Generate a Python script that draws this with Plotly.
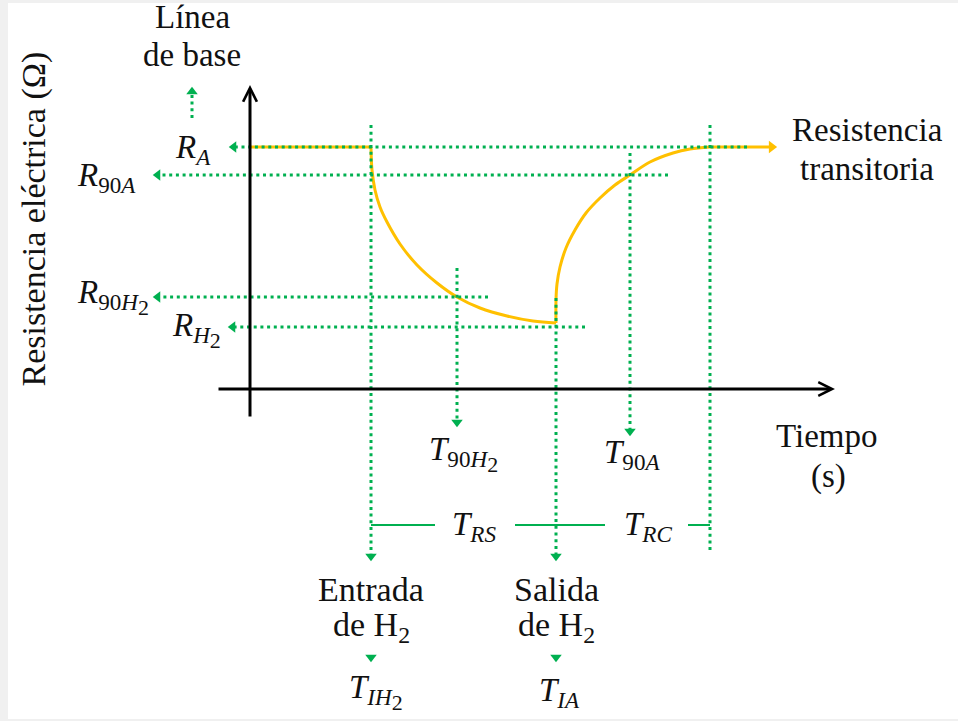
import math
import plotly.graph_objects as go

# ---- characteristic times (schematic time units) ----
t_gas_in = 12.1      # T_IH2 : H2 enters
t_90_h2 = 20.7       # T_90H2
t_gas_out = 30.6     # T_IA  : H2 leaves
t_90_air = 38.0      # T_90A
t_recovered = 46.0   # end of recovery (T_RC)

# ---- characteristic resistance levels (schematic units) ----
r_air = 24.2         # R_A   baseline
r_90_air = 21.4      # R_90A
r_90_h2 = 9.2        # R_90H2
r_h2 = 6.2           # R_H2

# ---- transient resistance curve ----
base_t = [0.0, 12.1]
base_r = [24.2, 24.2]
fall_t = [12.1, 12.2, 12.5, 13.0, 13.7, 15.0, 16.7, 18.7, 20.7, 23.0, 25.7, 28.3, 30.6]
fall_r = [24.2, 21.9, 19.9, 18.2, 16.7, 14.5, 12.4, 10.6, 9.2, 8.1, 7.3, 6.8, 6.6]
rise_t = [30.6, 30.6, 30.7, 31.0, 31.6, 32.5, 33.6, 35.0, 36.5, 38.0, 40.0, 42.3, 44.0, 46.0]
rise_r = [6.6, 8.9, 10.5, 12.2, 14.1, 15.9, 17.6, 19.1, 20.4, 21.4, 22.7, 23.6, 24.0, 24.2]
tail_t = [46.0, 52.0]
tail_r = [24.2, 24.2]
tail_tip = 52.8

# ---- layout of the schematic (data units; 1 unit = 10 px) ----
X_RANGE = [-25.0, 70.8]
Y_RANGE = [-33.2, 38.9]
PX = 10.0

GREEN = "#00B050"
GOLD = "#FFC000"
SERIF = "Liberation Serif, Times New Roman, serif"
TXT = "#111111"
DOT = "3px,3.7px"
TRI = 10  # arrowhead marker size


def tri_off(size=TRI):
    # distance from marker centre to its tip, in data units
    return size / math.sqrt(3) / PX


fig = go.Figure()


def dotted(xs, ys):
    fig.add_trace(go.Scatter(x=xs, y=ys, mode="lines",
                             line=dict(color=GREEN, width=3, dash=DOT),
                             hoverinfo="skip", showlegend=False))


def head(x, y, symbol, color=GREEN, size=TRI):
    fig.add_trace(go.Scatter(x=[x], y=[y], mode="markers",
                             marker=dict(symbol=symbol, size=size, color=color,
                                         line=dict(width=0)),
                             hoverinfo="skip", showlegend=False))


# ---- transient resistance (gold) ----
fig.add_trace(go.Scatter(x=base_t, y=base_r, mode="lines",
                         line=dict(color=GOLD, width=3), hoverinfo="skip", showlegend=False))
fig.add_trace(go.Scatter(x=fall_t, y=fall_r, mode="lines", line_shape="spline",
                         line=dict(color=GOLD, width=3), hoverinfo="skip", showlegend=False))
fig.add_trace(go.Scatter(x=rise_t, y=rise_r, mode="lines", line_shape="spline",
                         line=dict(color=GOLD, width=3), hoverinfo="skip", showlegend=False))
fig.add_trace(go.Scatter(x=tail_t, y=tail_r, mode="lines",
                         line=dict(color=GOLD, width=3), hoverinfo="skip", showlegend=False))
head(tail_tip - tri_off(11), r_air, "triangle-right", GOLD, 11)

# ---- horizontal guide arrows to the resistance axis ----
h_guides = [
    (r_air, 49.7, -2.2),
    (r_90_air, 41.8, -9.8),
    (r_90_h2, 23.8, -9.8),
    (r_h2, 33.5, -2.3),
]
for r, t_from, t_tip in h_guides:
    c = t_tip + tri_off()
    dotted([t_from, c], [r, r])
    head(c, r, "triangle-left")

# ---- vertical guide arrows to the time marks ----
v_guides = [
    (t_gas_in, 26.4, -17.3),
    (t_90_h2, 12.1, -3.9),
    (t_gas_out, 9.1, -17.3),
    (t_90_air, 23.6, -4.8),
]
for t, r_from, r_tip in v_guides:
    c = r_tip + tri_off()
    dotted([t, t], [r_from, c])
    head(t, c, "triangle-down")

# recovery limit (no arrowhead)
dotted([t_recovered, t_recovered], [26.4, -16.4])

# baseline pointer
base_x = -5.8
dotted([base_x, base_x], [27.1, 30.3 - tri_off()])
head(base_x, 30.3 - tri_off(), "triangle-up")

# markers below the gas in/out labels
for t in (t_gas_in, t_gas_out):
    head(t, -27.4 + tri_off(), "triangle-down")

# response / recovery time span lines
span_r = -13.6
for a, b in [(t_gas_in, 18.5), (26.5, 35.5), (43.8, t_recovered)]:
    fig.add_trace(go.Scatter(x=[a, b], y=[span_r, span_r], mode="lines",
                             line=dict(color=GREEN, width=2),
                             hoverinfo="skip", showlegend=False))

# ---- axes drawn as arrows ----
for (x, y, ax, ay) in [(0, 30.4, 0, -2.9), (58.5, 0, -3.3, 0)]:
    fig.add_annotation(x=x, y=y, ax=ax, ay=ay, xref="x", yref="y",
                       axref="x", ayref="y", text="", showarrow=True,
                       arrowhead=5, arrowsize=0.9, arrowwidth=3,
                       arrowcolor="#000000", standoff=0)


def label(x, y, text, anchor="center", size=33, angle=0):
    fig.add_annotation(x=x, y=y, xref="x", yref="y", text=text, showarrow=False,
                       xanchor=anchor, yanchor="middle", textangle=angle,
                       font=dict(family=SERIF, size=size, color=TXT))


# H2 inside a subscript: the 2 keeps the subscript size, only dropped lower
H2 = "<i>H</i><sub><span style='font-size:22px'>2</span></sub>"

# plain text
label(-5.8, 37.2, "Línea")
label(-5.8, 33.4, "de base")
label(61.7, 25.9, "Resistencia")
label(61.7, 22.0, "transitoria")
label(57.6, -4.65, "Tiempo")
label(57.8, -8.7, "(s)")
label(t_gas_in, -20.0, "Entrada", size=34)
label(t_gas_in, -23.8, "de H<sub>2</sub>", size=34)
label(t_gas_out, -20.0, "Salida", size=34)
label(t_gas_out, -23.8, "de H<sub>2</sub>", size=34)
label(-21.7, 16.95, "Resistencia eléctrica (Ω)", size=34, angle=-90)

# symbolic labels
label(-7.7, 24.0, "<i>R</i><sub><i>A</i></sub>", anchor="left")
label(-17.5, 21.2, "<i>R</i><sub>90<i>A</i></sub>", anchor="left")
label(-17.5, 9.2, "<i>R</i><sub>90" + H2 + "</sub>", anchor="left")
label(-8.0, 5.9, "<i>R</i><sub>" + H2 + "</sub>", anchor="left")
label(17.7, -6.5, "<i>T</i><sub>90" + H2 + "</sub>", anchor="left")
label(35.2, -6.5, "<i>T</i><sub>90<i>A</i></sub>", anchor="left")
label(20.0, -13.7, "<i>T</i><sub><i>RS</i></sub>", anchor="left")
label(37.2, -13.7, "<i>T</i><sub><i>RC</i></sub>", anchor="left")
label(9.7, -30.3, "<i>T</i><sub><i>I</i>" + H2 + "</sub>", anchor="left")
label(28.7, -30.3, "<i>T</i><sub><i>IA</i></sub>", anchor="left")

fig.update_layout(
    width=958, height=721,
    margin=dict(l=0, r=0, t=0, b=0),
    paper_bgcolor="#f0f0f0", plot_bgcolor="#f0f0f0",
    xaxis=dict(range=X_RANGE, visible=False, fixedrange=True),
    yaxis=dict(range=Y_RANGE, visible=False, fixedrange=True),
    shapes=[dict(type="rect", xref="paper", yref="paper",
                 x0=8 / 958, x1=1, y0=2 / 721, y1=1 - 3 / 721,
                 fillcolor="white", line=dict(width=0), layer="below")],
    showlegend=False,
)

fig.write_html("out.html")
